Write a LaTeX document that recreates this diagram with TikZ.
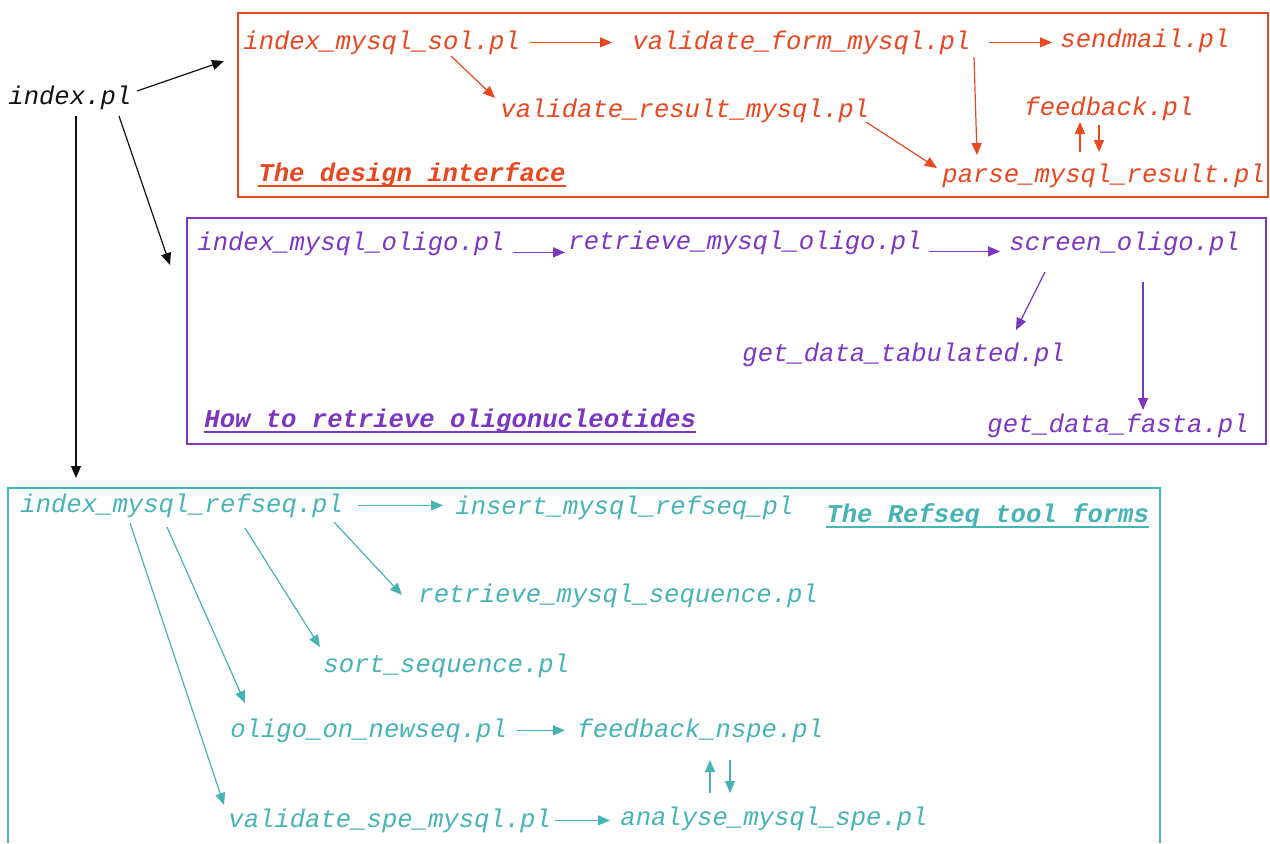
\documentclass[tikz,border=0pt]{standalone}
\usepackage{fontspec}
\setmonofont{Liberation Mono}
\usetikzlibrary{arrows.meta,calc}
\definecolor{Ink}{HTML}{111111}
\definecolor{Design}{HTML}{E8471F}
\definecolor{Oligo}{HTML}{7B36C2}
\definecolor{Refseq}{HTML}{46B3B5}
\tikzset{
  file/.style={inner sep=0pt,anchor=base west,font=\fontsize{12.8}{14}\selectfont\ttfamily\itshape},
  ttl/.style={inner sep=0pt,anchor=base west,font=\fontsize{12.8}{14}\selectfont\ttfamily\bfseries\itshape},
  arr/.style={-{Triangle[length=6pt,width=5pt]},line width=0.6pt},
  frame/.style={line width=0.8pt},
  uline/.style={line width=0.9pt}
}

\begin{document}
\begin{tikzpicture}[x=0.5pt,y=-0.5pt]
  \useasboundingbox (0,0) rectangle (1270,843);
  % frames
  \draw[frame,Design] (238,13) rectangle (1268,197);
  \draw[frame,Oligo] (187,218) rectangle (1266,444);
  \draw[frame,Refseq] (8,843) -- (8,488) -- (1160,488) -- (1160,843);
  \coordinate (dsgnIn) at (224,61);
  \coordinate (oligoIn) at (170,265);
  \coordinate (refIn) at (76,478);

  \node[file,text=Ink] (idx) at (8,104) {index.pl};

  % the design interface
  \node[file,text=Design] (sol) at (243,49) {index\_mysql\_sol.pl};
  \node[file,text=Design] (vform) at (632,49) {validate\_form\_mysql.pl};
  \node[file,text=Design] (send) at (1060,47) {sendmail.pl};
  \node[file,text=Design] (vres) at (500,117) {validate\_result\_mysql.pl};
  \node[file,text=Design] (fb) at (1024,115) {feedback.pl};
  \node[file,text=Design] (parse) at (942,182) {parse\_mysql\_result.pl};
  \node[ttl,text=Design] (dsgn) at (258,181) {The design interface};
  \draw[uline,Design] ($(dsgn.base west)+(0,5)$) -- ($(dsgn.base east)+(0,5)$);

  % retrieving oligos
  \node[file,text=Oligo] (ioligo) at (197,250) {index\_mysql\_oligo.pl};
  \node[file,text=Oligo] (roligo) at (568,249) {retrieve\_mysql\_oligo.pl};
  \node[file,text=Oligo] (screen) at (1009,250) {screen\_oligo.pl};
  \node[file,text=Oligo] (tab) at (742,361) {get\_data\_tabulated.pl};
  \node[file,text=Oligo] (fasta) at (987,432) {get\_data\_fasta.pl};
  \node[ttl,text=Oligo] (howto) at (204,427) {How to retrieve oligonucleotides};
  \draw[uline,Oligo] ($(howto.base west)+(0,5)$) -- ($(howto.base east)+(0,5)$);

  % refseq forms
  \node[file,text=Refseq] (iref) at (20,512) {index\_mysql\_refseq.pl};
  \node[file,text=Refseq] (insert) at (455,514) {insert\_mysql\_refseq\_pl};
  \node[ttl,text=Refseq] (rtitle) at (826,522) {The Refseq tool forms};
  \draw[uline,Refseq] ($(rtitle.base west)+(0,5)$) -- ($(rtitle.base east)+(0,5)$);
  \node[file,text=Refseq] (rseq) at (418,602) {retrieve\_mysql\_sequence.pl};
  \node[file,text=Refseq] (sort) at (323,672) {sort\_sequence.pl};
  \node[file,text=Refseq] (onew) at (230,737) {oligo\_on\_newseq.pl};
  \node[file,text=Refseq] (fnspe) at (577,737) {feedback\_nspe.pl};
  \node[file,text=Refseq] (vspe) at (228,827) {validate\_spe\_mysql.pl};
  \node[file,text=Refseq] (anal) at (620,825) {analyse\_mysql\_spe.pl};

  % index.pl links
  \draw[arr,Ink] ($(idx.base west)+(129,-13)$) -- (dsgnIn);
  \draw[arr,Ink] ($(idx.base west)+(111,12)$) -- (oligoIn);
  \draw[arr,Ink] ($(idx.base west)+(68,12)$) -- (refIn);

  \draw[arr,Design,shorten <=5pt,shorten >=10pt] (sol.east) -- (sol.east -| vform.west);
  \draw[arr,Design,shorten <=9pt,shorten >=4pt] (vform.east) -- (vform.east -| send.west);
  \draw[arr,Design] ($(sol.base west)+(208,7)$) -- ($(vres.base west)+(-5,-19)$);
  \draw[arr,Design] ($(vform.base west)+(342,8)$) -- ($(parse.base west)+(35,-27)$);
  \draw[arr,Design] ($(vres.base west)+(366,5)$) -- ($(parse.base west)+(-5,-14)$);
  \draw[arr,Design] ($(parse.base west)+(138,-30)$) -- ($(fb.base west)+(56,7)$);
  \draw[arr,Design] ($(fb.base west)+(75,10)$) -- ($(parse.base west)+(157,-30)$);

  \draw[arr,Oligo,line width=0.8pt,shorten <=4pt,shorten >=1.5pt] ([yshift=-4.5pt]ioligo.east) -- ([yshift=-4.5pt]ioligo.east -| roligo.west);
  \draw[arr,Oligo,line width=0.8pt,shorten <=3.5pt,shorten >=4.5pt] ([yshift=-4.5pt]roligo.east) -- ([yshift=-4.5pt]roligo.east -| screen.west);
  \draw[arr,Oligo] ($(screen.base west)+(36,22)$) -- ($(tab.base west)+(274,-31)$);
  \draw[arr,Oligo] ($(screen.base west)+(134,32)$) -- ($(fasta.base west)+(156,-22)$);

  \draw[arr,Refseq,shorten <=7.5pt,shorten >=6pt] (iref.east) -- (iref.east -| insert.west);
  \draw[arr,Refseq] ($(iref.base west)+(314,10)$) -- ($(rseq.base west)+(-16,-7)$);
  \draw[arr,Refseq] ($(iref.base west)+(225,16)$) -- ($(sort.base west)+(-3,-25)$);
  \draw[arr,Refseq] ($(iref.base west)+(147,15)$) -- ($(onew.base west)+(15,-34)$);
  \draw[arr,Refseq] ($(iref.base west)+(110,11)$) -- ($(vspe.base west)+(-4,-22)$);
  \draw[arr,Refseq,shorten <=5pt,shorten >=6pt] (onew.east) -- (onew.east -| fnspe.west);
  \draw[arr,Refseq,shorten <=2pt,shorten >=5pt] (vspe.east) -- (vspe.east -| anal.west);
  \draw[arr,Refseq] ($(anal.base west)+(90,-32)$) -- ($(fnspe.base west)+(133,23)$);
  \draw[arr,Refseq] ($(fnspe.base west)+(153,23)$) -- ($(anal.base west)+(110,-32)$);
\end{tikzpicture}
\end{document}
